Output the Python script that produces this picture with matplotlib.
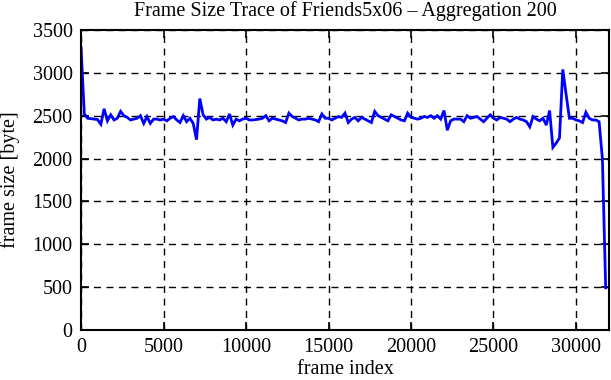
import matplotlib
matplotlib.use("Agg")
import matplotlib.pyplot as plt
import numpy as np

step = 200
sizes = [
    # 0 - 4800
    3300, 2520, 2470, 2465, 2460, 2455, 2400, 2580, 2440, 2510, 2450, 2470, 2550, 2500, 2480, 2450, 2460, 2470, 2500, 2410, 2490, 2410, 2460, 2460, 2450,
    # 5000 - 9800
    2460, 2440, 2470, 2490, 2450, 2420, 2500, 2430, 2470, 2410, 2220, 2700, 2510, 2460, 2480, 2450, 2460, 2450, 2470, 2430, 2520, 2390, 2460, 2440, 2460,
    # 10000 - 14800
    2470, 2450, 2450, 2455, 2460, 2470, 2500, 2440, 2470, 2460, 2450, 2440, 2420, 2530, 2490, 2470, 2450, 2460, 2460, 2470, 2460, 2450, 2430, 2520, 2470,
    # 15000 - 19800
    2470, 2450, 2470, 2490, 2480, 2530, 2420, 2460, 2480, 2440, 2480, 2460, 2440, 2420, 2550, 2500, 2480, 2460, 2440, 2510, 2490, 2470, 2450, 2440, 2530,
    # 20000 - 24800
    2480, 2470, 2460, 2470, 2490, 2480, 2500, 2470, 2500, 2460, 2560, 2330, 2440, 2460, 2460, 2460, 2430, 2500, 2470, 2480, 2490, 2460, 2430, 2470, 2510,
    # 25000 - 31800
    2470, 2450, 2480, 2470, 2460, 2430, 2460, 2480, 2460, 2450, 2430, 2370, 2490, 2460, 2440, 2470, 2390, 2560, 2130, 2180, 2240, 3040, 2750, 2470, 2470,
    2450, 2440, 2420, 2540, 2470, 2450, 2450, 2430, 2000, 490,
]
frames = np.arange(len(sizes)) * step

xticks = [0, 5000, 10000, 15000, 20000, 25000, 30000]
yticks = [0, 500, 1000, 1500, 2000, 2500, 3000, 3500]

plt.rcParams['font.family'] = ['Liberation Serif', 'DejaVu Serif']
fs = 14.5

fig = plt.figure(figsize=(6.11, 3.80), dpi=100)
ax = fig.add_axes([0.1326, 0.132, 0.8641, 0.789])

ax.plot(frames, sizes, color=(0, 0, 1), lw=2.0, solid_joinstyle='miter')

ax.set_xlim(0, 32000)
ax.set_ylim(0, 3500)
ax.set_xticks(xticks)
ax.set_yticks(yticks)
ax.tick_params(direction='in', top=True, right=True, length=6, width=1.2, labelsize=fs, pad=6)
ax.grid(True, color='black', linestyle=(0, (5, 4)), linewidth=1.0)
for s in ax.spines.values():
    s.set_linewidth(1.5)

ax.set_title('Frame Size Trace of Friends5x06 \u2013 Aggregation 200', fontsize=fs, pad=10)
ax.set_xlabel('frame index', fontsize=fs, labelpad=2)
ax.set_ylabel('frame size [byte]', fontsize=fs, labelpad=9)

fig.savefig('out.png', dpi=100)
